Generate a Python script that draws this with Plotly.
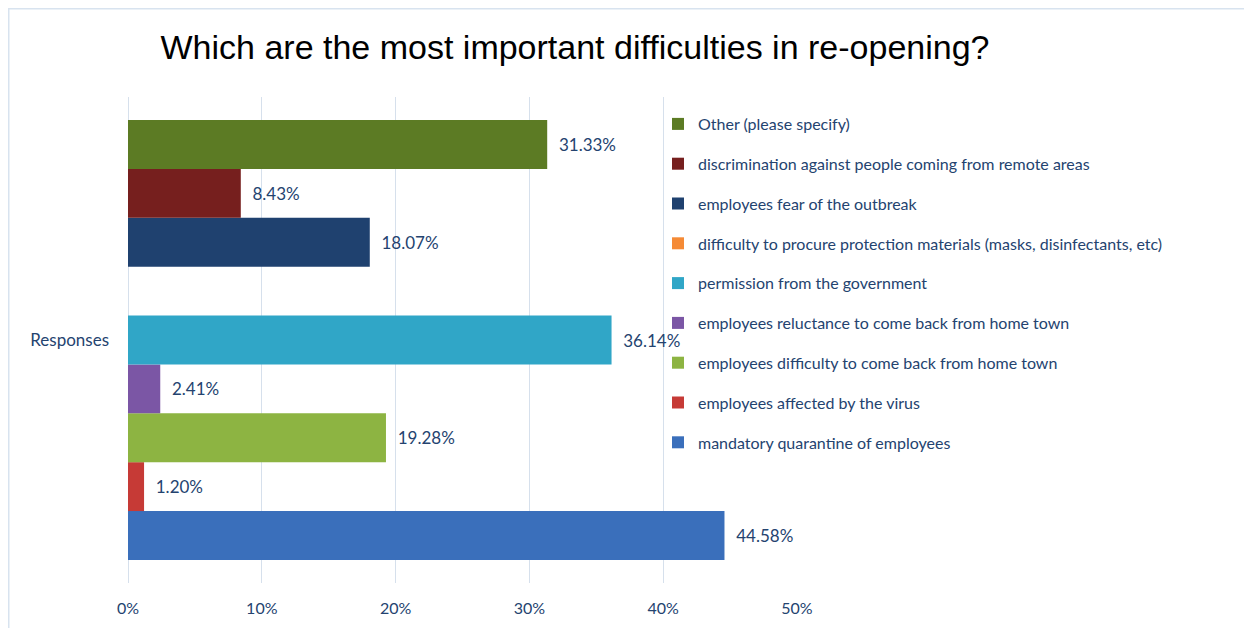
import plotly.graph_objects as go

category = ["Responses"]
series_names = [
    "mandatory quarantine of employees",
    "employees affected by the virus",
    "employees difficulty to come back from home town",
    "employees reluctance to come back from home town",
    "permission from the government",
    "difficulty to procure protection materials (masks, disinfectants, etc)",
    "employees fear of the outbreak",
    "discrimination against people coming from remote areas",
    "Other (please specify)",
]
series_values = [44.58, 1.20, 19.28, 2.41, 36.14, None, 18.07, 8.43, 31.33]
series_colors = ["#3A6FBB", "#C63A36", "#8DB442", "#7B56A5", "#30A6C7",
                 "#F58A35", "#1F416F", "#761F1E", "#5C7B24"]
tick_values = [0, 10, 20, 30, 40, 50]
tick_labels = ["0%", "10%", "20%", "30%", "40%", "50%"]

text_color = "#24436F"
font_family = "Lato, Open Sans, sans-serif"

n = len(series_names)
fig = go.Figure()
for i, (name, val, col) in enumerate(zip(series_names, series_values, series_colors)):
    fig.add_trace(go.Bar(
        y=category,
        x=[val],
        name=name,
        orientation="h",
        marker=dict(color=col, line=dict(width=0)),
        text=[f"  {val:.2f}%" if val is not None else ""],
        textposition="outside",
        textfont=dict(color=text_color, size=17, family=font_family),
        cliponaxis=False,
        legendgroup=f"g{i}",
        legendrank=n - i,
    ))

# figure-pixel geometry of the plot area
W0, W1 = 120, 789
T0, B0 = 89, 575
PW, PH = W1 - W0, B0 - T0

fig.update_layout(
    width=1252, height=628,
    margin=dict(l=W0, r=1252 - W1, t=T0, b=628 - B0),
    paper_bgcolor="white", plot_bgcolor="white",
    barmode="group", bargap=0.095, bargroupgap=0,
    title=dict(
        text="Which are the most important difficulties in re-opening?",
        font=dict(family="Liberation Sans, Arial, sans-serif", size=34, color="black"),
        x=567 / 1252, xanchor="center", y=1 - 39 / 628, yanchor="middle",
    ),
    xaxis=dict(
        range=[0, 50], tickvals=tick_values, ticktext=tick_labels,
        showgrid=True, gridcolor="#D6E0EC", gridwidth=1,
        zeroline=True, zerolinecolor="#D6E0EC", zerolinewidth=1, showline=False,
        tickfont=dict(color=text_color, size=16, family=font_family),
        ticklabelstandoff=14, fixedrange=True,
    ),
    yaxis=dict(
        showgrid=False, zeroline=False, showline=False,
        tickfont=dict(color=text_color, size=17, family=font_family),
        ticklabelstandoff=18,
    ),
    legend=dict(
        x=(650 - W0) / PW, xanchor="left",
        y=(B0 - 99) / PH, yanchor="top",
        traceorder="grouped", tracegroupgap=16,
        font=dict(color=text_color, size=16, family=font_family),
        bgcolor="rgba(0,0,0,0)", itemwidth=30,
    ),
    showlegend=True,
)

fig.add_shape(
    type="rect", xref="paper", yref="paper",
    x0=(0.75 - W0) / PW, x1=2.0,
    y0=-0.3, y1=(B0 - 0.75) / PH,
    line=dict(color="#D8E3EF", width=1.5), fillcolor="rgba(0,0,0,0)", layer="below",
)

fig.write_html("out.html")
